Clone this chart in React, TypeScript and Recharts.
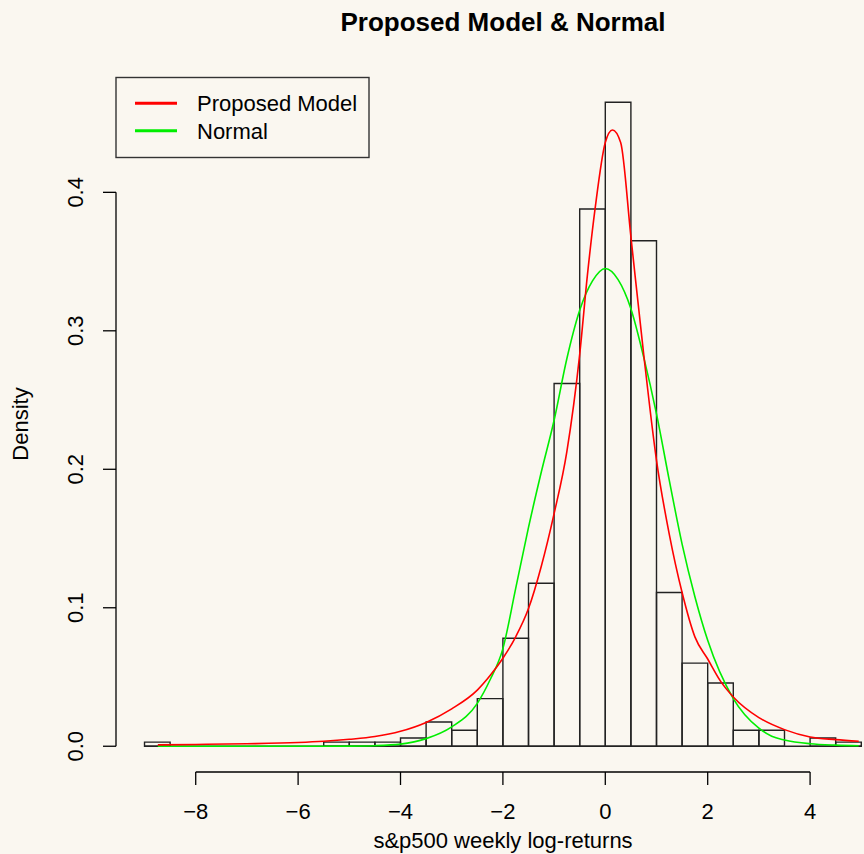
import React from 'react';
import {
  ComposedChart,
  Line,
  XAxis,
  YAxis,
  ReferenceArea,
  ReferenceLine,
} from 'recharts';

// histogram of weekly log-returns (bin edges + density per bin)
const binEdges = [
  -9, -8.5, -8, -7.5, -7, -6.5, -6, -5.5, -5, -4.5, -4, -3.5, -3, -2.5, -2,
  -1.5, -1, -0.5, 0, 0.5, 1, 1.5, 2, 2.5, 3, 3.5, 4, 4.5, 5,
];
const binDensity = [
  0.003, 0, 0, 0, 0, 0, 0, 0.003, 0.003, 0.003, 0.006, 0.0175, 0.0116, 0.0344,
  0.078, 0.1177, 0.262, 0.388, 0.465, 0.365, 0.111, 0.06, 0.0457, 0.0116,
  0.0116, 0, 0.006, 0.003,
];

// fitted curves
const modelX = [
  -8.74, -8, -7, -6, -5.5, -5, -4.5, -4, -3.5, -3, -2.5, -2.25, -2, -1.75,
  -1.5, -1.25, -1, -0.75, -0.5, -0.35, -0.2, 0, 0.14, 0.3, 0.5, 0.75, 1, 1.25,
  1.5, 1.75, 2, 2.25, 2.5, 3, 3.5, 4, 4.5, 4.95,
];
const modelY = [
  0.001, 0.0013, 0.0018, 0.0027, 0.0036, 0.005, 0.007, 0.0108, 0.0172, 0.027,
  0.0405, 0.051, 0.0635, 0.079, 0.0994, 0.13, 0.168, 0.213, 0.283, 0.34, 0.388,
  0.436, 0.445, 0.436, 0.368, 0.283, 0.2065, 0.153, 0.111, 0.079, 0.063, 0.047,
  0.0356, 0.0207, 0.012, 0.0067, 0.0048, 0.0036,
];
const normalX = [
  -8.74, -6, -5, -4.5, -4, -3.5, -3, -2.5, -2.25, -2, -1.75, -1.5, -1.25, -1,
  -0.75, -0.5, -0.25, 0, 0.25, 0.5, 0.75, 1, 1.25, 1.5, 1.75, 2, 2.5, 3, 3.25,
  3.5, 4, 4.5, 4.95,
];
const normalY = [
  0, 0, 0.0001, 0.0004, 0.0015, 0.0055, 0.014, 0.031, 0.048, 0.0705, 0.114,
  0.158, 0.198, 0.2354, 0.28, 0.3148, 0.336, 0.345, 0.337, 0.316, 0.281, 0.24,
  0.192, 0.146, 0.108, 0.0765, 0.0344, 0.013, 0.0072, 0.0045, 0.0018, 0.0008,
  0.0004,
];

const xTicks = [-8, -6, -4, -2, 0, 2, 4];
const yTicks = [0, 0.1, 0.2, 0.3, 0.4];

const modelData = modelX.map((x, i) => ({ x, y: modelY[i] }));
const normalData = normalX.map((x, i) => ({ x, y: normalY[i] }));

const FONT = '"Liberation Sans", Arial, Helvetica, sans-serif';
const X_MIN = -9.557;
const X_MAX = 5.053;
const Y_MIN = -0.0186;
const Y_MAX = 0.484;

const YTick = (props: any) => {
  const { x, y, payload } = props;
  return (
    <text
      x={x}
      y={y}
      transform={`rotate(-90, ${x}, ${y})`}
      textAnchor="middle"
      fontSize={22}
      fontFamily={FONT}
      fill="#000"
    >
      {Number(payload.value).toFixed(1)}
    </text>
  );
};

export default function App() {
  return (
    <div
      style={{
        position: 'fixed',
        left: 0,
        top: 0,
        width: 864,
        height: 854,
        background: '#faf7f0',
        overflow: 'hidden',
      }}
    >
      <ComposedChart
        width={864}
        height={854}
        margin={{ top: 76, right: 0, bottom: 22, left: 56 }}
      >
        <XAxis
          type="number"
          dataKey="x"
          domain={[X_MIN, X_MAX]}
          ticks={xTicks}
          allowDataOverflow
          height={60}
          axisLine={false}
          tickLine={{ stroke: '#000', strokeWidth: 1.3 }}
          tickSize={13}
          tickMargin={18}
          tick={{ fill: '#000', fontSize: 22, fontFamily: FONT }}
          tickFormatter={(v: number) => String(v).replace('-', '\u2212')}
        />
        <YAxis
          type="number"
          domain={[Y_MIN, Y_MAX]}
          ticks={yTicks}
          allowDataOverflow
          width={60}
          axisLine={false}
          tickLine={{ stroke: '#000', strokeWidth: 1.3 }}
          tickSize={13}
          tickMargin={20}
          tick={<YTick />}
        />
        {binDensity.map((d, i) => (
          <ReferenceArea
            key={i}
            x1={binEdges[i]}
            x2={binEdges[i + 1]}
            y1={0}
            y2={d}
            fill="none"
            stroke="#222"
            strokeWidth={1.4}
            ifOverflow="visible"
          />
        ))}
        <ReferenceLine
          segment={[
            { x: binEdges[0], y: 0 },
            { x: binEdges[binEdges.length - 1], y: 0 },
          ]}
          stroke="#222"
          strokeWidth={1.4}
          ifOverflow="visible"
        />
        {/* R style axis lines, only spanning the tick range */}
        <ReferenceLine
          segment={[
            { x: xTicks[0], y: Y_MIN },
            { x: xTicks[xTicks.length - 1], y: Y_MIN },
          ]}
          stroke="#000"
          strokeWidth={1.3}
          ifOverflow="visible"
        />
        <ReferenceLine
          segment={[
            { x: X_MIN, y: yTicks[0] },
            { x: X_MIN, y: yTicks[yTicks.length - 1] },
          ]}
          stroke="#000"
          strokeWidth={1.3}
          ifOverflow="visible"
        />
        <Line
          data={normalData}
          dataKey="y"
          type="monotone"
          stroke="#00ee00"
          strokeWidth={1.6}
          dot={false}
          isAnimationActive={false}
        />
        <Line
          data={modelData}
          dataKey="y"
          type="monotone"
          stroke="#ff0000"
          strokeWidth={1.6}
          dot={false}
          isAnimationActive={false}
        />
      </ComposedChart>

      <svg
        width={864}
        height={854}
        style={{ position: 'absolute', left: 0, top: 0, pointerEvents: 'none' }}
        fontFamily={FONT}
      >
        <text x={503} y={31} textAnchor="middle" fontSize={26} fontWeight="bold" fill="#000">
          Proposed Model &amp; Normal
        </text>
        <text x={503} y={848} textAnchor="middle" fontSize={22} fill="#000">
          s&amp;p500 weekly log-returns
        </text>
        <text
          x={28}
          y={424}
          transform="rotate(-90, 28, 424)"
          textAnchor="middle"
          fontSize={22}
          fill="#000"
        >
          Density
        </text>
        <rect x={116} y={77.5} width={253} height={80} fill="none" stroke="#333" strokeWidth={1.4} />
        <line x1={135} x2={177} y1={103.3} y2={103.3} stroke="#ff0000" strokeWidth={3} />
        <line x1={135} x2={177} y1={130.7} y2={130.7} stroke="#00ee00" strokeWidth={3} />
        <text x={197} y={111} fontSize={22} fill="#000">Proposed Model</text>
        <text x={197} y={138.5} fontSize={22} fill="#000">Normal</text>
      </svg>
    </div>
  );
}
